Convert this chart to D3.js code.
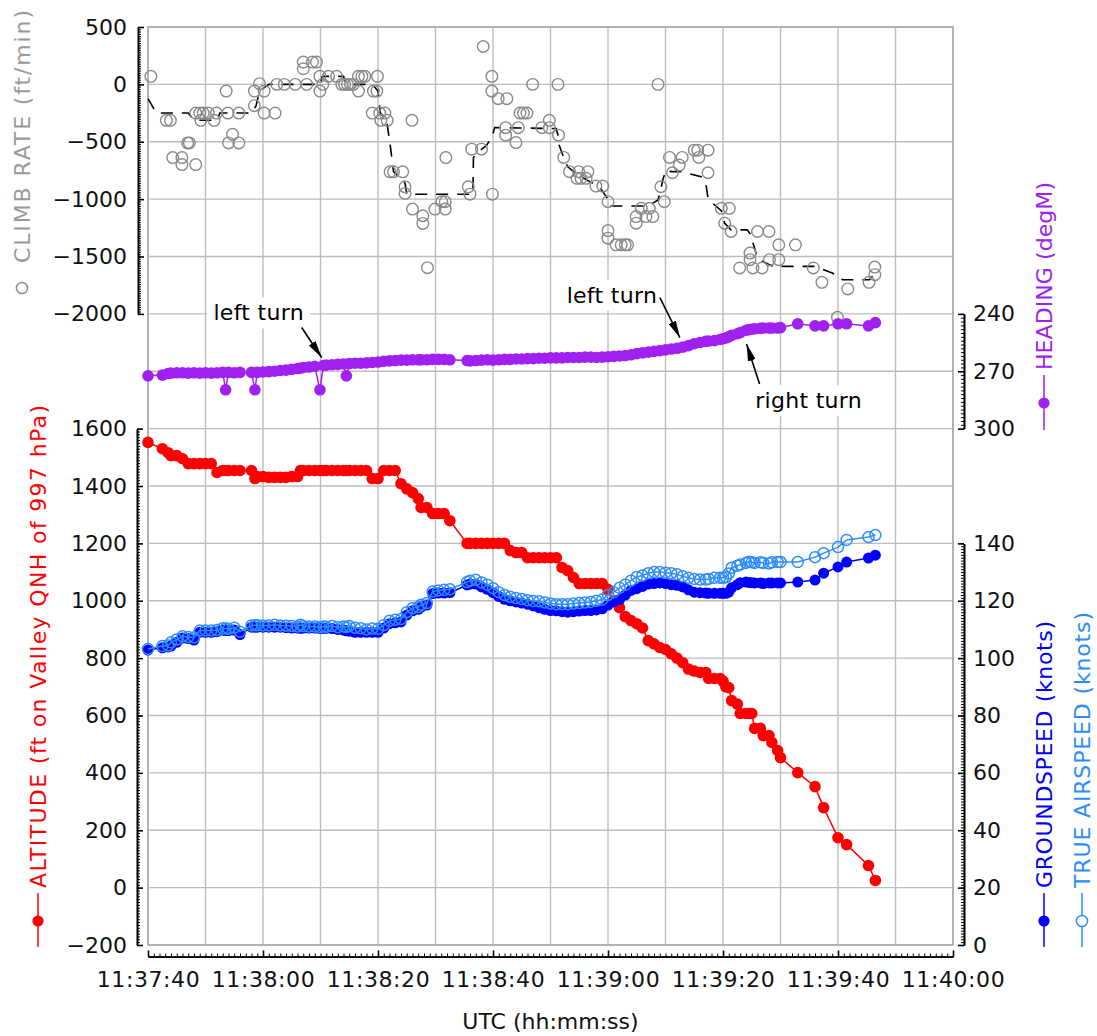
<!DOCTYPE html>
<html>
<head>
<meta charset="utf-8">
<script src="https://cdnjs.cloudflare.com/ajax/libs/d3/7.8.5/d3.min.js"></script>
<style>
  body { margin: 0; background: #fff; }
  svg { display: block; font-family: "DejaVu Sans", sans-serif; }
</style>
</head>
<body>
<svg id="chart" width="1097" height="1036"></svg>
<script>
// sample times, seconds after 11:37:40 UTC (altitude / speeds / heading share them)
var secs = [
  0, 2.5, 3.5, 4, 5, 6, 7, 8, 9, 10,
  11, 12, 13, 13.5, 14, 15, 16, 18, 18.6, 19,
  20, 21, 22, 23, 24, 25, 26, 26.5, 27, 28,
  29, 29.9, 30.5, 31, 32, 33, 34, 34.5, 35, 36,
  37, 38, 39, 40, 41, 42, 43, 44, 45, 46,
  47, 47.5, 48.5, 49.5, 50.5, 51.5, 52.5, 55.5, 56, 57,
  58, 59, 60, 61, 62, 63, 64, 65, 66, 67,
  68, 69, 70, 71, 72, 73, 74, 75, 76, 77,
  78, 79, 80, 81, 82, 83, 84, 85, 86, 87,
  88, 89, 90, 91, 92, 93, 94, 95, 96, 97,
  97.5, 98.5, 99.5, 100, 100.5, 101, 101.5, 102.5, 103, 104,
  104.5, 105, 105.5, 106.5, 107, 108, 108.5, 109.5, 110, 113,
  116, 117.5, 120, 121.5, 125.3, 126.5
];

var altitude = [
  1552, 1530, 1516, 1506, 1506, 1495, 1478, 1478, 1478, 1478,
  1478, 1447, 1454, 1454, 1454, 1454, 1454, 1454, 1426, 1433,
  1433, 1430, 1430, 1430, 1430, 1433, 1433, 1454, 1454, 1454,
  1454, 1454, 1454, 1454, 1454, 1454, 1454, 1454, 1454, 1454,
  1454, 1454, 1426, 1426, 1454, 1454, 1454, 1408, 1390, 1377,
  1356, 1325, 1325, 1304, 1304, 1304, 1279, 1200, 1200, 1200,
  1200, 1200, 1200, 1200, 1200, 1175, 1168, 1168, 1150, 1150,
  1150, 1150, 1150, 1150, 1116, 1105, 1081, 1060, 1060, 1060,
  1060, 1060, 1040, 1000, 976, 945, 931, 920, 905, 861,
  850, 837, 830, 815, 800, 784, 762, 755, 750, 750,
  729, 729, 729, 720, 700, 697, 652, 640, 607, 607,
  607, 607, 555, 555, 530, 530, 506, 478, 453, 401,
  352, 279, 174, 150, 77, 25
];

var groundspeed = [
  102.8, 103.6, 103.9, 104.2, 105.5, 107.0, 106.8, 106.3, 109.0, 109.0,
  109.0, 109.2, 109.8, 109.6, 109.6, 109.8, 108.2, 110.8, 110.8, 110.8,
  110.8, 110.8, 110.8, 110.8, 110.6, 110.5, 110.5, 110.4, 110.5, 110.5,
  110.5, 110.3, 110.4, 110.4, 110.3, 110.0, 109.8, 109.5, 109.4, 109.0,
  109.0, 109.0, 109.0, 109.0, 110.5, 112.0, 112.3, 112.6, 115.0, 116.5,
  117.0, 117.8, 118.5, 122.5, 122.7, 122.7, 122.8, 125.5, 125.8, 125.8,
  124.8, 124.0, 122.8, 121.5, 120.5, 120.0, 119.6, 119.2, 118.8, 118.2,
  117.6, 117.0, 116.6, 116.5, 116.2, 116.0, 116.2, 116.4, 116.6, 116.6,
  116.8, 117.2, 118.5, 119.6, 120.4, 122.0, 123.6, 124.2, 125.0, 125.8,
  126.0, 126.2, 126.0, 125.6, 125.4, 124.8, 123.8, 123.0, 122.8, 122.7,
  122.6, 122.6, 122.6, 122.6, 122.6, 123.0, 124.5, 125.6, 126.3, 126.5,
  126.4, 126.3, 126.2, 126.2, 126.0, 126.2, 126.2, 126.2, 126.2, 126.5,
  127.2, 129.6, 131.8, 133.5, 134.9, 135.9
];

var trueAirspeed = [
  103.2, 104.2, 104.4, 105.5, 106.5, 107.6, 107.4, 107.2, 109.6, 109.6,
  109.6, 109.8, 110.4, 110.3, 110.2, 110.6, 109.2, 111.4, 111.5, 111.5,
  111.4, 111.4, 111.6, 111.4, 111.3, 111.2, 111.0, 111.6, 111.2, 111.0,
  111.0, 110.8, 111.0, 110.9, 111.2, 110.8, 111.0, 110.8, 111.2, 110.6,
  110.4, 110.0, 110.3, 110.2, 111.5, 113.0, 113.4, 113.6, 116.0, 117.4,
  117.8, 118.6, 119.2, 123.2, 123.6, 123.8, 124.0, 126.5, 127.0, 127.3,
  126.4, 125.6, 124.4, 123.0, 122.0, 121.4, 121.0, 120.6, 120.2, 119.9,
  119.8, 119.4, 119.0, 118.8, 118.8, 118.8, 119.0, 119.2, 119.4, 119.6,
  120.0, 120.4, 122.0, 123.0, 124.5, 125.6, 127.0, 128.3, 128.8, 129.6,
  130.0, 130.0, 129.8, 129.6, 129.2, 128.5, 128.0, 127.6, 127.4, 127.4,
  127.6, 128.0, 128.0, 128.0, 128.2, 129.5, 131.5, 132.2, 132.6, 133.2,
  133.6, 133.4, 133.2, 133.4, 133.2, 133.0, 133.4, 133.5, 133.5, 133.5,
  135.2, 136.6, 138.7, 141.2, 142.2, 142.9
];

var heading = [
  272.4, 272.0, 271.2, 271.0, 270.8, 270.8, 271.0, 270.8, 271.0, 270.8,
  271.0, 270.8, 270.6, 279.7, 270.6, 270.8, 270.6, 270.6, 279.7, 270.6,
  270.4, 270.2, 270.0, 269.6, 269.4, 269.0, 268.6, 268.4, 268.0, 267.8,
  267.4, 279.7, 267.0, 266.8, 266.6, 266.4, 266.2, 272.4, 266.0, 265.8,
  265.8, 265.6, 265.4, 265.2, 264.8, 264.6, 264.4, 264.2, 264.2, 264.0,
  264.0, 264.0, 264.0, 263.8, 263.8, 263.8, 264.0, 264.4, 264.6, 264.4,
  264.2, 264.0, 264.2, 264.0, 263.8, 263.8, 263.6, 263.6, 263.4, 263.4,
  263.2, 263.2, 263.0, 263.0, 263.0, 262.8, 262.8, 262.8, 262.6, 262.6,
  262.8, 262.6, 262.4, 262.2, 262.0, 261.8, 261.4, 260.8, 260.4, 260.0,
  259.6, 259.2, 258.8, 258.4, 258.0, 257.4, 256.6, 255.6, 255.0, 254.4,
  254.2, 254.0, 253.4, 253.0, 252.6, 252.0, 251.2, 250.4, 249.8, 248.6,
  248.2, 248.0, 247.8, 247.6, 247.4, 247.4, 247.4, 247.4, 247.2, 245.2,
  246.3, 246.3, 245.2, 245.2, 246.3, 244.6
];

// climb rate samples (ft/min)
var climbSecs = [
  0.5, 3.2, 3.9, 4.3, 5.9, 5.9, 6.9, 7.2, 8.3, 8.3,
  9.0, 9.2, 9.6, 10.5, 11.5, 11.9, 13.6, 13.9, 14.0, 14.7,
  15.8, 15.8, 18.5, 18.5, 19.4, 20.2, 20.2, 22.1, 22.4, 23.7,
  25.6, 27.0, 27.0, 27.6, 28.6, 29.3, 29.9, 29.9, 30.4, 31.4,
  32.8, 33.7, 34.2, 34.7, 35.2, 35.7, 36.6, 36.6, 37.2, 37.7,
  39.0, 39.2, 39.8, 39.9, 40.3, 40.5, 41.2, 41.6, 42.1, 42.7,
  44.3, 44.7, 44.7, 45.9, 46.0, 47.8, 47.8, 48.6, 49.9, 51.1,
  51.7, 51.7, 51.8, 55.7, 56.0, 56.3, 58.0, 58.3, 59.8, 59.8,
  59.9, 60.9, 62.2, 62.2, 62.4, 64.0, 64.4, 64.7, 65.3, 65.9,
  66.9, 68.5, 69.8, 69.8, 71.3, 71.4, 72.3, 73.3, 74.6, 74.9,
  75.3, 76.2, 76.5, 77.9, 79.1, 80.0, 80.0, 80.0, 81.4, 82.3,
  83.0, 83.4, 84.9, 84.9, 85.8, 86.6, 87.2, 87.8, 88.7, 89.2,
  89.8, 90.7, 91.2, 92.4, 92.9, 95.0, 95.6, 95.8, 97.4, 97.4,
  99.7, 100.3, 101.1, 101.4, 102.9, 104.7, 104.7, 105.2, 106.0, 106.8,
  108.0, 108.1, 109.7, 109.7, 112.6, 115.7, 117.2, 119.9, 121.7, 125.4,
  126.4, 126.4
];
var climbRate = [
  70, -313, -313, -638, -638, -699, -510, -510, -699, -250,
  -250, -313, -250, -250, -313, -250, -58, -250, -510, -435,
  -250, -510, -186, -58, 6, -58, -250, -250, 0, 0,
  0, 194, 136, 0, 194, 194, 70, -58, 0, 70,
  70, 0, 0, 0, 0, 0, 70, -58, 70, 70,
  -250, -58, -58, 70, -250, -313, -250, -313, -762, -762,
  -762, -893, -951, -313, -1087, -1145, -1212, -1597, -1087, -1023,
  -1087, -1023, -638, -893, -957, -565, -565, 330, 70, -58,
  -957, -125, -377, -443, -125, -507, -377, -250, -250, -250,
  0, -377, -313, -377, 0, -443, -637, -761, -819, -761,
  -819, -819, -761, -886, -886, -1022, -1274, -1340, -1398, -1398,
  -1398, -1398, -1210, -1152, -1080, -1152, -1080, -1152, 0, -892,
  -1022, -637, -770, -703, -637, -573, -573, -637, -573, -770,
  -1080, -1210, -1080, -1282, -1600, -1470, -1528, -1600, -1282, -1600,
  -1282, -1528, -1528, -1398, -1398, -1600, -1725, -2030, -1783, -1725,
  -1658, -1592
];

// smoothed climb rate (dashed)
var trendSecs = [
  0, 0.9, 1.5, 7, 8, 12, 12.5, 18, 18.8, 19.4,
  21, 30, 30.3, 34, 34.5, 39, 40, 40.4, 41.5, 42.1,
  42.7, 44.7, 45, 56.5, 56.6, 57.2, 58.9, 59.8, 60.3, 71,
  71.3, 71.4, 72.3, 73, 74.8, 77.4, 78.5, 79.7, 80.3, 87,
  88.7, 89, 89.6, 90.1, 91, 92.7, 96.2, 97.1, 97.4, 98.2,
  99.7, 100.3, 101.4, 104.2, 104.7, 105.2, 105.8, 106.3, 108.7, 116,
  119, 120.8, 125.5, 126.4
];
var climbTrend = [
  -125, -203, -250, -250, -313, -313, -250, -250, -186, -58,
  0, 0, 70, 70, 0, 0, -58, -250, -313, -520,
  -760, -860, -957, -957, -638, -600, -530, -458, -377, -385,
  -443, -515, -637, -718, -790, -863, -892, -978, -1060, -1060,
  -1007, -950, -819, -747, -760, -760, -805, -892, -993, -1037,
  -1100, -1210, -1268, -1268, -1300, -1380, -1480, -1528, -1586, -1586,
  -1644, -1702, -1702, -1640
];

var xTickLabels = ["11:37:40", "11:38:00", "11:38:20", "11:38:40", "11:39:00", "11:39:20", "11:39:40", "11:40:00"];
var climbTicks = [500, 0, -500, -1000, -1500, -2000];
var headingTicks = [240, 270, 300];
var altitudeTicks = [1600, 1400, 1200, 1000, 800, 600, 400, 200, 0, -200];
var speedTicks = [140, 120, 100, 80, 60, 40, 20, 0];

// turn annotations: arrow tip at (secs, heading)
var turnLabels = ["left turn", "left turn", "right turn"];
var turnSecs = [30.2, 92.5, 104.1];
var turnHeading = [262.8, 252.4, 255.8];

var svg = d3.select("#chart");

var plotLeft = 148, plotRight = 953, plotTop = 27, cell = 57.375;
var plotBottom = plotTop + 16 * cell;
var t0 = Date.UTC(2020, 0, 1, 11, 37, 40);
function toDate(s) { return new Date(t0 + s * 1000); }

var x = d3.scaleUtc().domain([toDate(0), toDate(140)]).range([plotLeft, plotRight]);
var yClimb = d3.scaleLinear().domain([-2000, 500]).range([plotTop + 5 * cell, plotTop]);
var yHdg = d3.scaleLinear().domain([240, 300]).range([plotTop + 5 * cell, plotTop + 7 * cell]);
var yAlt = d3.scaleLinear().domain([-200, 1600]).range([plotBottom, plotTop + 7 * cell]);
var ySpd = d3.scaleLinear().domain([0, 140]).range([plotBottom, plotTop + 9 * cell]);

var gridColor = "#bdbdbd";
var fontSize = 22;

// grid
var grid = svg.append("g").attr("stroke", gridColor).attr("stroke-width", 1.4);
grid.selectAll("line.v")
    .data(d3.range(0, 141, 10))
  .enter().append("line")
    .attr("x1", function(d) { return x(toDate(d)); })
    .attr("x2", function(d) { return x(toDate(d)); })
    .attr("y1", plotTop).attr("y2", plotBottom);
grid.selectAll("line.ha")
    .data(altitudeTicks)
  .enter().append("line")
    .attr("x1", plotLeft).attr("x2", plotRight)
    .attr("y1", function(d) { return yAlt(d); })
    .attr("y2", function(d) { return yAlt(d); });
grid.selectAll("line.hc")
    .data(climbTicks)
  .enter().append("line")
    .attr("x1", plotLeft).attr("x2", plotRight)
    .attr("y1", function(d) { return yClimb(d); })
    .attr("y2", function(d) { return yClimb(d); });
grid.append("line")
    .attr("x1", plotLeft).attr("x2", plotRight)
    .attr("y1", yHdg(270)).attr("y2", yHdg(270));
svg.append("rect")
    .attr("x", plotLeft).attr("y", plotTop)
    .attr("width", plotRight - plotLeft).attr("height", plotBottom - plotTop)
    .attr("fill", "none").attr("stroke", "#ababab").attr("stroke-width", 1.6);

// annotations (text boxes hide the grid behind them)
svg.append("defs").append("marker")
    .attr("id", "arrow")
    .attr("viewBox", "0 0 17 8")
    .attr("refX", 17).attr("refY", 4)
    .attr("markerWidth", 17).attr("markerHeight", 8)
    .attr("markerUnits", "userSpaceOnUse")
    .attr("orient", "auto")
  .append("path")
    .attr("d", "M0,0 L17,4 L0,8 Z")
    .attr("fill", "#000");

var tailOffset = [[-20, -30], [-20, -40], [13, 40]];
var textOffset = [[-43, -7], [-48, 5], [49, 24]];
var ann = svg.append("g");
turnLabels.forEach(function(label, i) {
  var tx = x(toDate(turnSecs[i])), ty = yHdg(turnHeading[i]);
  var ax = tx + tailOffset[i][0], ay = ty + tailOffset[i][1];
  var g = ann.append("g");
  var txt = g.append("text")
      .attr("x", ax + textOffset[i][0])
      .attr("y", ay + textOffset[i][1])
      .attr("text-anchor", "middle")
      .attr("font-size", fontSize)
      .attr("letter-spacing", 0.3)
      .attr("fill", "#000")
      .text(label);
  var bb = txt.node().getBBox();
  g.insert("rect", "text")
      .attr("x", bb.x - 6).attr("y", bb.y - 3)
      .attr("width", bb.width + 12).attr("height", bb.height + 6)
      .attr("fill", "#fff");
  g.append("line")
      .attr("x1", ax).attr("y1", ay)
      .attr("x2", tx).attr("y2", ty)
      .attr("stroke", "#000").attr("stroke-width", 1.6)
      .attr("marker-end", "url(#arrow)");
});

// climb rate
svg.append("path")
    .datum(trendSecs)
    .attr("fill", "none")
    .attr("stroke", "#000")
    .attr("stroke-width", 1.6)
    .attr("stroke-dasharray", "12,9")
    .attr("d", d3.line()
        .x(function(d) { return x(toDate(d)); })
        .y(function(d, i) { return yClimb(climbTrend[i]); }));

svg.append("g").selectAll("circle")
    .data(climbSecs)
  .enter().append("circle")
    .attr("cx", function(d) { return x(toDate(d)); })
    .attr("cy", function(d, i) { return yClimb(climbRate[i]); })
    .attr("r", 5.8)
    .attr("fill", "none")
    .attr("stroke", "#8a8a8a")
    .attr("stroke-width", 1.4);

// line + markers for the shared-time series
function drawSeries(values, yScale, color, filled, r) {
  var g = svg.append("g");
  g.append("path")
      .datum(secs)
      .attr("fill", "none")
      .attr("stroke", color)
      .attr("stroke-width", 1.5)
      .attr("d", d3.line()
          .x(function(d) { return x(toDate(d)); })
          .y(function(d, i) { return yScale(values[i]); }));
  g.selectAll("circle")
      .data(secs)
    .enter().append("circle")
      .attr("cx", function(d) { return x(toDate(d)); })
      .attr("cy", function(d, i) { return yScale(values[i]); })
      .attr("r", r)
      .attr("fill", filled ? color : "none")
      .attr("stroke", color)
      .attr("stroke-width", filled ? 0 : 1.5);
}

var purple = "#a020f0", red = "#ff0000", blue = "#0000ff", lightBlue = "#2a8cff";
drawSeries(heading, yHdg, purple, true, 5.8);
drawSeries(altitude, yAlt, red, true, 5.8);
drawSeries(groundspeed, ySpd, blue, true, 5.5);
drawSeries(trueAirspeed, ySpd, lightBlue, false, 5.5);

// axes
function styleAxis(g) {
  g.selectAll("path.domain").attr("stroke", "#000").attr("stroke-width", 1.6);
  g.selectAll(".tick line").attr("stroke", "#000").attr("stroke-width", 1);
  g.selectAll(".tick text")
      .attr("fill", "#111")
      .attr("font-family", "DejaVu Sans")
      .attr("font-size", fontSize);
}

function yAxis(axisFn, scale, xPos, majors, minorStep, pad) {
  var d = scale.domain();
  var lo = Math.min(d[0], d[1]), hi = Math.max(d[0], d[1]);
  var minors = d3.range(lo, hi + minorStep / 2, minorStep);
  var g = svg.append("g").attr("transform", "translate(" + xPos + ",0)");
  g.call(axisFn(scale).tickValues(minors).tickSizeInner(-3).tickSizeOuter(0).tickFormat(""));
  var gm = g.append("g");
  gm.call(axisFn(scale).tickValues(majors).tickSizeInner(-6).tickSizeOuter(0)
      .tickPadding(pad).tickFormat(d3.format("d")));
  styleAxis(g);
  gm.selectAll(".tick line").attr("stroke-width", 1.6);
  return g;
}

yAxis(d3.axisLeft, yClimb, 138, climbTicks, 20, 11);
yAxis(d3.axisLeft, yAlt, 137, altitudeTicks, 10, 10);
yAxis(d3.axisRight, yHdg, 964, headingTicks, 2, 9);
yAxis(d3.axisRight, ySpd, 964, speedTicks, 1, 9);

var xAxisG = svg.append("g").attr("transform", "translate(0," + (plotBottom + 11.5) + ")");
xAxisG.call(d3.axisBottom(x).tickValues(d3.range(0, 141, 1).map(toDate))
    .tickSizeInner(-3).tickSizeOuter(0).tickFormat(""));
var xMajor = xAxisG.append("g");
xMajor.call(d3.axisBottom(x).tickValues(d3.range(0, 141, 20).map(toDate))
    .tickSizeInner(-6).tickSizeOuter(0).tickPadding(15)
    .tickFormat(function(d, i) { return xTickLabels[i]; }));
styleAxis(xAxisG);
xMajor.selectAll(".tick line").attr("stroke-width", 1.6);
xMajor.selectAll(".tick text").attr("letter-spacing", 0.6);

svg.append("text")
    .attr("x", (plotLeft + plotRight) / 2)
    .attr("y", 1029)
    .attr("text-anchor", "middle")
    .attr("font-size", fontSize)
    .attr("fill", "#111")
    .text("UTC (hh:mm:ss)");

// rotated series titles with their legend symbols
function vTitle(label, cx, yStart, len, color) {
  svg.append("text")
      .attr("transform", "translate(" + (cx + 8) + "," + yStart + ") rotate(-90)")
      .attr("font-size", fontSize)
      .attr("textLength", len)
      .attr("lengthAdjust", "spacing")
      .attr("fill", color)
      .text(label);
}
function legendLine(cx, y1, y2, color) {
  svg.append("line")
      .attr("x1", cx).attr("x2", cx).attr("y1", y1).attr("y2", y2)
      .attr("stroke", color).attr("stroke-width", 1.5);
}
function legendDot(cx, cy, color, filled) {
  svg.append("circle")
      .attr("cx", cx).attr("cy", cy).attr("r", 5.6)
      .attr("fill", filled ? color : "#fff")
      .attr("stroke", color).attr("stroke-width", filled ? 0 : 1.5);
}

vTitle("CLIMB RATE (ft/min)", 22, 263, 253, "#9a9a9a");
legendDot(22, 288, "#8a8a8a", false);

vTitle("ALTITUDE (ft on Valley QNH of 997 hPa)", 38, 888, 483, red);
legendLine(38, 893, 947, red);
legendDot(38, 921, red, true);

vTitle("HEADING (degM)", 1044, 370, 188, purple);
legendLine(1044, 375, 430, purple);
legendDot(1044, 403, purple, true);

vTitle("GROUNDSPEED (knots)", 1044, 888, 267, blue);
legendLine(1044, 893, 947, blue);
legendDot(1044, 921, blue, true);

vTitle("TRUE AIRSPEED (knots)", 1082, 888, 276, lightBlue);
legendLine(1082, 893, 947, lightBlue);
legendDot(1082, 921, lightBlue, false);
</script>
</body>
</html>
